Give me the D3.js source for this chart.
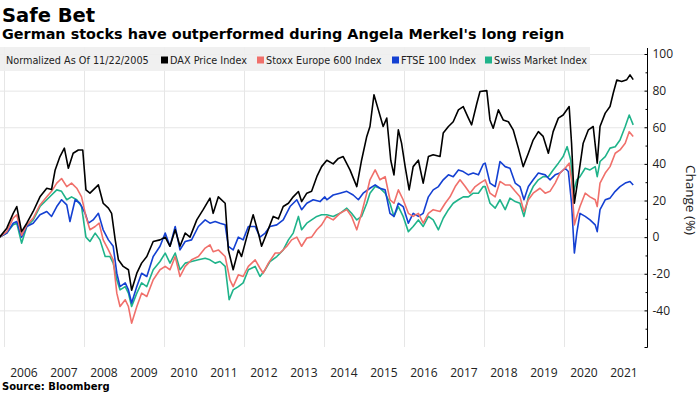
<!DOCTYPE html>
<html>
<head>
<meta charset="utf-8">
<script src="https://cdn.jsdelivr.net/npm/d3@7"></script>
<style>
  html, body { margin: 0; padding: 0; background: #fff; }
  svg { display: block; }
</style>
</head>
<body>
<svg id="chart" width="700" height="394"></svg>
<script>
// ---------------- DATA (decimal year, % change since 11/22/2005) ----------------
const seriesNames = ["DAX Price Index", "Stoxx Europe 600 Index", "FTSE 100 Index", "Swiss Market Index"];
const seriesColors = ["#000000", "#f0706b", "#1440d2", "#1fb38a"];
const yearLabels = ["2006","2007","2008","2009","2010","2011","2012","2013","2014","2015","2016","2017","2018","2019","2020","2021"];
const yTicks = [100, 80, 60, 40, 20, 0, -20, -40, -60];

const dax = [
[2005.89,0],[2006.07,4.9],[2006.23,13],[2006.32,16.7],[2006.44,3],[2006.57,7.6],[2006.73,14],[2006.9,22],
[2007.07,26.7],[2007.19,26],[2007.28,36.7],[2007.4,44],[2007.51,48.6],[2007.61,37.6],[2007.73,45.8],[2007.86,47.6],
[2007.97,47.6],[2008.05,25.8],[2008.15,24],[2008.36,28.5],[2008.48,18.5],[2008.61,15.8],[2008.69,13],[2008.78,-1.5],
[2008.86,-12.4],[2008.98,-16],[2009.11,-17.8],[2009.19,-29],[2009.32,-19.7],[2009.44,-14.2],[2009.57,-10.6],[2009.73,-2.4],
[2009.9,-1.5],[2010.03,0],[2010.15,-5],[2010.28,4],[2010.4,-5],[2010.53,2.2],[2010.65,0],[2010.82,9.4],
[2010.98,15],[2011.15,21.3],[2011.23,13],[2011.36,22],[2011.53,18.5],[2011.61,-7],[2011.73,-17.8],[2011.86,-7],
[2011.94,-10.6],[2012.07,0],[2012.23,12.2],[2012.36,2.2],[2012.44,-5],[2012.57,2.2],[2012.73,11.3],[2012.86,10],
[2012.98,16.7],[2013.11,18.5],[2013.23,22],[2013.36,24.9],[2013.44,19.4],[2013.57,24],[2013.69,25],[2013.82,33],
[2013.94,38.5],[2014.07,42],[2014.23,40],[2014.36,43],[2014.48,44],[2014.65,36.7],[2014.82,27.6],[2014.94,42],
[2015.07,55],[2015.15,60.4],[2015.25,77.7],[2015.36,69.5],[2015.48,60.4],[2015.57,65],[2015.67,42],[2015.75,34],
[2015.86,58.6],[2015.94,51.3],[2016.03,38.5],[2016.13,25.8],[2016.23,38.5],[2016.36,42],[2016.48,29.5],[2016.61,44],
[2016.73,45],[2016.9,44],[2016.98,56.8],[2017.11,60.4],[2017.23,63],[2017.36,69.5],[2017.48,71.3],[2017.61,65],
[2017.69,61.3],[2017.82,73],[2017.9,79.5],[2018.07,80],[2018.15,64],[2018.23,59.5],[2018.36,69.5],[2018.48,64],
[2018.61,63],[2018.73,58.6],[2018.86,48.6],[2018.98,38.5],[2019.11,45.8],[2019.23,53],[2019.36,57.6],[2019.48,55],
[2019.61,45.8],[2019.73,57.6],[2019.86,65],[2019.98,66.7],[2020.13,71.3],[2020.19,51.3],[2020.26,18.5],[2020.36,33],
[2020.48,51.3],[2020.61,58.6],[2020.73,60.4],[2020.83,40.4],[2020.9,60.4],[2021.03,67.7],[2021.15,71.3],[2021.23,78.6],
[2021.32,85.8],[2021.44,85],[2021.57,86],[2021.65,88.6],[2021.73,86]
];

const stoxx = [
[2005.89,0],[2006.07,3],[2006.23,10.4],[2006.32,12.2],[2006.44,1],[2006.57,6.7],[2006.73,10.4],[2006.9,17.6],
[2007.07,22],[2007.19,25],[2007.32,29.5],[2007.44,32],[2007.57,27.6],[2007.69,29.5],[2007.82,26.7],[2007.94,22],
[2008.05,11.3],[2008.15,4],[2008.28,5.8],[2008.38,7.6],[2008.48,-1.5],[2008.61,-7],[2008.73,-12.4],[2008.82,-30.6],
[2008.9,-37.9],[2009.03,-34.2],[2009.11,-37.9],[2009.19,-47],[2009.32,-37.9],[2009.44,-30.6],[2009.57,-32.4],[2009.73,-23.3],
[2009.9,-17.8],[2010.03,-16],[2010.15,-17.8],[2010.28,-10.6],[2010.4,-21.5],[2010.53,-16],[2010.69,-12.4],[2010.86,-10.6],
[2011.03,-6],[2011.15,-4.2],[2011.23,-8],[2011.36,-7],[2011.53,-10.6],[2011.65,-23.3],[2011.73,-27],[2011.86,-20.6],
[2011.98,-21.5],[2012.11,-16],[2012.28,-12.4],[2012.4,-17],[2012.48,-19.7],[2012.61,-14.2],[2012.78,-8.7],[2012.9,-8.7],
[2013.07,-5],[2013.19,-1.5],[2013.32,0],[2013.44,-5],[2013.57,-0.5],[2013.69,0],[2013.82,4],[2013.94,6.7],
[2014.07,11.3],[2014.23,9.4],[2014.4,13],[2014.57,15],[2014.69,11.3],[2014.82,4],[2014.94,13],[2015.07,24],
[2015.15,31.3],[2015.28,36.7],[2015.4,31.3],[2015.53,33],[2015.65,20.4],[2015.75,18.5],[2015.86,25.8],[2015.98,20.4],
[2016.11,13],[2016.23,11.3],[2016.36,13],[2016.48,7.6],[2016.61,13],[2016.73,15],[2016.9,14],[2017.03,18.5],
[2017.15,22],[2017.28,27.6],[2017.4,31.3],[2017.53,27.6],[2017.65,24],[2017.78,27.6],[2017.9,29.5],[2018.03,31.3],
[2018.15,24],[2018.28,22],[2018.4,30.4],[2018.53,28.5],[2018.65,28.5],[2018.78,25],[2018.9,22],[2019.0,14],
[2019.11,20.4],[2019.23,24],[2019.4,26.7],[2019.53,24],[2019.65,25],[2019.78,29.5],[2019.9,35],[2020.03,37.6],
[2020.13,40.4],[2020.19,31.3],[2020.26,6.7],[2020.32,11.3],[2020.4,16.7],[2020.53,24],[2020.65,22],[2020.78,20.4],
[2020.83,16.7],[2020.9,29.5],[2021.03,35],[2021.15,38.5],[2021.28,45.8],[2021.4,47.6],[2021.53,51.3],[2021.63,57.6],
[2021.73,55]
];

const ftse = [
[2005.89,0],[2006.07,2.2],[2006.23,7.6],[2006.32,8.5],[2006.44,0],[2006.57,5.8],[2006.73,7.6],[2006.9,12.2],
[2007.07,14],[2007.19,11.3],[2007.32,16.7],[2007.44,20.4],[2007.57,17.6],[2007.65,8.5],[2007.78,20.4],[2007.9,18.5],
[2008.03,13],[2008.11,7.6],[2008.23,9.4],[2008.36,13],[2008.48,4],[2008.61,-1.5],[2008.73,-5],[2008.82,-19.7],
[2008.9,-27],[2009.03,-25],[2009.11,-28.8],[2009.19,-36],[2009.32,-27],[2009.44,-19.7],[2009.57,-21.5],[2009.73,-10.6],
[2009.9,-5],[2010.03,2.2],[2010.15,-5],[2010.28,5.8],[2010.4,-7],[2010.53,-2.4],[2010.69,-1.5],[2010.86,5.8],
[2011.03,9.4],[2011.15,7.6],[2011.28,8.5],[2011.4,7.6],[2011.53,6.7],[2011.61,-5],[2011.73,-7],[2011.86,0],
[2011.98,-1.5],[2012.11,5.8],[2012.28,5.8],[2012.4,0],[2012.53,2.2],[2012.65,5.8],[2012.82,6.7],[2012.98,9.4],
[2013.15,16.7],[2013.32,20.4],[2013.44,15],[2013.57,18.5],[2013.73,20.4],[2013.9,19.4],[2014.02,22],[2014.07,20.4],
[2014.23,23],[2014.4,24],[2014.57,25],[2014.73,23],[2014.86,20.4],[2014.98,24],[2015.15,26.7],[2015.28,28.5],
[2015.4,26.7],[2015.53,25.8],[2015.65,13],[2015.75,11.3],[2015.86,18.5],[2015.98,16.7],[2016.11,7.6],[2016.23,13],
[2016.36,11.3],[2016.48,13],[2016.61,22],[2016.73,25.8],[2016.86,27.6],[2016.98,31.3],[2017.11,34],[2017.23,33],
[2017.36,36.7],[2017.48,35.8],[2017.61,34],[2017.73,35],[2017.86,34],[2017.98,39.8],[2018.03,40.4],[2018.15,29.5],
[2018.28,27.6],[2018.4,41.3],[2018.53,38.5],[2018.65,37.6],[2018.78,29.5],[2018.9,27.6],[2019.0,20.4],[2019.11,27.6],
[2019.23,31.3],[2019.36,35],[2019.53,34],[2019.65,31.3],[2019.78,34],[2019.9,35],[2020.03,37.6],[2020.11,35.8],
[2020.19,18.5],[2020.26,-8.7],[2020.32,2.2],[2020.4,13],[2020.53,11.3],[2020.65,9.4],[2020.78,6.7],[2020.83,3],
[2020.9,15],[2021.03,20.4],[2021.15,21.3],[2021.28,25],[2021.4,27.6],[2021.53,29.5],[2021.65,30.4],[2021.73,28.5]
];

const smi = [
[2005.89,0],[2006.07,2.2],[2006.23,6.7],[2006.32,7.6],[2006.44,-3.3],[2006.57,5.8],[2006.73,9.4],[2006.9,16.7],
[2007.07,20.4],[2007.19,23],[2007.32,25.8],[2007.44,25],[2007.57,20.4],[2007.69,22],[2007.82,20.4],[2007.94,16.7],
[2008.05,0],[2008.15,-2.4],[2008.28,2.2],[2008.4,-1.5],[2008.53,-10.6],[2008.65,-10.6],[2008.73,-14.2],[2008.82,-23.3],
[2008.9,-28.8],[2009.03,-27],[2009.11,-30.6],[2009.19,-37.9],[2009.32,-30.6],[2009.44,-25],[2009.57,-27],[2009.73,-17.8],
[2009.9,-13.3],[2010.03,-8.7],[2010.15,-14.2],[2010.28,-8.7],[2010.4,-17.8],[2010.53,-14.2],[2010.69,-13.3],[2010.86,-12.4],
[2011.03,-11.5],[2011.15,-12.4],[2011.28,-14.2],[2011.4,-13.3],[2011.53,-16],[2011.63,-34.2],[2011.73,-28.8],[2011.86,-27],
[2011.98,-25],[2012.11,-17.8],[2012.28,-16],[2012.4,-21.5],[2012.53,-17.8],[2012.65,-13.3],[2012.82,-10.6],[2012.98,-7],
[2013.11,-1.5],[2013.23,2.2],[2013.36,11.3],[2013.44,4],[2013.57,7.6],[2013.69,9.4],[2013.82,11.3],[2013.94,12.2],
[2014.07,12.2],[2014.23,11.3],[2014.4,13],[2014.57,15.8],[2014.69,13],[2014.82,9.4],[2014.94,11.3],[2015.07,18.5],
[2015.15,24],[2015.28,27.6],[2015.4,26.7],[2015.53,24],[2015.65,18.5],[2015.75,11.3],[2015.86,16.7],[2015.98,11.3],
[2016.11,3],[2016.23,5.8],[2016.36,9.4],[2016.48,5.8],[2016.61,11.3],[2016.73,9.4],[2016.86,4],[2016.98,10.3],
[2017.11,15],[2017.23,18.5],[2017.36,20.4],[2017.48,22],[2017.61,22],[2017.73,24],[2017.86,24],[2017.98,27.6],
[2018.03,27.6],[2018.15,18.5],[2018.28,15.8],[2018.4,20.4],[2018.53,15],[2018.65,21.3],[2018.78,19.4],[2018.9,18.5],
[2019.0,11.3],[2019.11,22],[2019.23,27.6],[2019.36,31.3],[2019.48,33],[2019.61,33],[2019.73,36.7],[2019.86,40.4],
[2019.98,44],[2020.08,49.4],[2020.17,42],[2020.23,24],[2020.32,31.3],[2020.4,33],[2020.53,37.6],[2020.65,36.7],
[2020.78,38.5],[2020.83,33],[2020.9,41.3],[2021.03,44],[2021.15,48.6],[2021.28,49.4],[2021.4,53],[2021.53,60.4],
[2021.63,66.7],[2021.73,61.3]
];

// ---------------- CHART ----------------
const svg = d3.select("#chart");
const FONT = "'DejaVu Sans', Verdana, sans-serif";
const AXFONT = "'Open Sans', 'Noto Sans', sans-serif";

function toDate(t) {
  const y = Math.floor(t);
  const s = new Date(y, 0, 1).getTime(), e = new Date(y + 1, 0, 1).getTime();
  return new Date(s + (t - y) * (e - s));
}

const x = d3.scaleTime().domain([new Date(2006, 0, 1), new Date(2022, 0, 1)]).range([4, 644]);
const y = d3.scaleLinear().domain([-60, 100]).range([347, 54]);
const axisX = 647.5;

// Titles
svg.append("text").attr("x", 2).attr("y", 22)
  .style("font-family", FONT).style("font-weight", "bold").style("font-size", "19.5px").attr("fill", "#000")
  .text("Safe Bet");
svg.append("text").attr("x", 2).attr("y", 39)
  .style("font-family", FONT).style("font-weight", "bold").style("font-size", "14.4px").attr("fill", "#000")
  .text("German stocks have outperformed during Angela Merkel's long reign");

// Legend background
svg.append("rect").attr("x", 0).attr("y", 47).attr("width", 590).attr("height", 24).attr("fill", "#f0f0f0");

// Gridlines
const grid = svg.append("g");
grid.selectAll("line.h").data(yTicks.filter(d => d > -60)).join("line")
  .attr("x1", 0).attr("x2", axisX).attr("y1", d => y(d) + 0.5).attr("y2", d => y(d) + 0.5)
  .attr("stroke", "#e6e6e6").attr("stroke-width", 1);
const gridYears = d3.range(2006, 2022, 2);
grid.selectAll("line.v").data(gridYears).join("line")
  .attr("x1", d => Math.round(x(new Date(d, 0, 1))) + 0.5).attr("x2", d => Math.round(x(new Date(d, 0, 1))) + 0.5)
  .attr("y1", 47).attr("y2", 347)
  .attr("stroke", "#e6e6e6").attr("stroke-width", 1);

// Legend
const lg = svg.append("g").style("font-family", FONT).style("font-size", "9.7px").attr("fill", "#222");
lg.append("rect").attr("x", 0).attr("y", 47).attr("width", 590).attr("height", 24).attr("fill", "#f0f0f0").attr("opacity", 0.75);
lg.append("text").attr("x", 6).attr("y", 63.5).text("Normalized As Of 11/22/2005");
const legendX = [161, 257, 392, 485];
seriesNames.forEach((n, i) => {
  lg.append("rect").attr("x", legendX[i]).attr("y", 56.5).attr("width", 7).attr("height", 7).attr("fill", seriesColors[i]);
  lg.append("text").attr("x", legendX[i] + 9).attr("y", 63.5).text(n);
});

// Lines
svg.append("clipPath").attr("id", "clip").append("rect").attr("x", 0).attr("y", 40).attr("width", axisX).attr("height", 320);
const line = d3.line().x(d => x(toDate(d[0]))).y(d => y(d[1])).curve(d3.curveLinear);
const allSeries = [dax, stoxx, ftse, smi];
const linesG = svg.append("g").attr("clip-path", "url(#clip)");
// draw order: SMI, FTSE, Stoxx, DAX on top
[3, 2, 1, 0].forEach(i => {
  linesG.append("path").datum(allSeries[i])
    .attr("fill", "none").attr("stroke", seriesColors[i]).attr("stroke-width", 1.6)
    .attr("stroke-linejoin", "round").attr("d", line);
});

// Y axis (right)
svg.append("line").attr("x1", axisX).attr("x2", axisX).attr("y1", 48).attr("y2", 347.5).attr("stroke", "#000").attr("stroke-width", 1);
const yAxis = d3.axisRight(y).tickValues(yTicks).tickSize(-3).tickPadding(5).tickFormat(d => d === -60 ? "" : String(d));
const ya = svg.append("g").attr("transform", `translate(${axisX},0)`).call(yAxis);
ya.select(".domain").remove();
ya.selectAll("text").style("font-family", AXFONT).style("font-size", "12px").attr("fill", "#222");
const yMinor = d3.axisRight(y).tickValues(d3.range(-50, 100, 20)).tickSize(-2).tickFormat("");
const ym = svg.append("g").attr("transform", `translate(${axisX},0)`).call(yMinor);
ym.select(".domain").remove();

svg.append("text").attr("transform", "translate(686,200) rotate(90)")
  .attr("text-anchor", "middle")
  .style("font-family", AXFONT).style("font-size", "13.5px").attr("fill", "#222")
  .text("Change (%)");

// X axis labels (mid-year)
svg.append("g").selectAll("text").data(yearLabels).join("text")
  .attr("x", d => x(new Date(+d, 6, 2)))
  .attr("y", 377).attr("text-anchor", "middle")
  .style("font-family", AXFONT).style("font-size", "12px").attr("fill", "#222")
  .text(d => d);

// Source
svg.append("text").attr("x", 2).attr("y", 390)
  .style("font-family", FONT).style("font-weight", "bold").style("font-size", "10px").attr("fill", "#000")
  .text("Source: Bloomberg");
</script>
</body>
</html>
